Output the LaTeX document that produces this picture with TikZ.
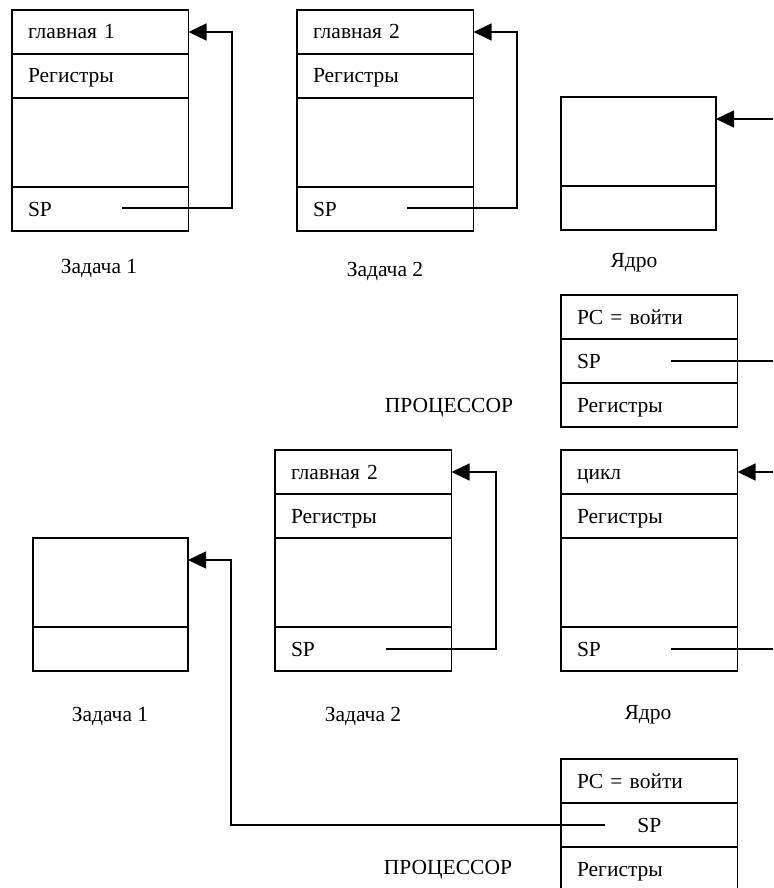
\documentclass[tikz,border=0pt]{standalone}
\usepackage{fontspec}
\setmainfont{Liberation Serif}
\usetikzlibrary{arrows.meta,positioning}
\tikzset{
  cellbox/.style={draw, line width=1.5pt, outer sep=0pt, minimum width=176.5pt, text width=144.5pt, minimum height=44pt, text height=17pt, text depth=3pt, inner xsep=16pt, inner ysep=0pt, align=left, font=\fontsize{21.5}{25}\selectfont},
  tallcell/.style={cellbox, minimum height=89pt},
  kernbox/.style={draw, line width=1.5pt, outer sep=0pt, inner sep=0pt, minimum width=155pt},
  caption/.style={font=\fontsize{21.5}{25}\selectfont},
  linkarrow/.style={-{Triangle[length=18pt,width=17pt]}, line width=1.3pt},
  linkline/.style={line width=1.3pt}
}

\begin{document}
\begin{tikzpicture}[x=1pt, y=-1pt]
  \useasboundingbox (0,0) rectangle (773,888);
  \clip (0,0) rectangle (773,888);

  \node[cellbox, anchor=north west] (a1main) at (12,10) {главная 1};
  \node[cellbox, below=0pt of a1main] (a1reg) {Регистры};
  \node[tallcell, below=0pt of a1reg] (a1free) {};
  \node[cellbox, below=0pt of a1free] (a1sp) {SP};
  \coordinate (a1src) at (122,208);
  \draw[linkarrow] (a1src) -- ++(110,0) |- (a1main.east);
  \node[caption] (a1lbl) at (99,268) {Задача 1};

  \node[cellbox, anchor=north west] (a2main) at (297,10) {главная 2};
  \node[cellbox, below=0pt of a2main] (a2reg) {Регистры};
  \node[tallcell, below=0pt of a2reg] (a2free) {};
  \node[cellbox, below=0pt of a2free] (a2sp) {SP};
  \coordinate (a2src) at (407,208);
  \draw[linkarrow] (a2src) -- ++(110,0) |- (a2main.east);
  \node[caption] (a2lbl) at (385,271) {Задача 2};

  \node[kernbox, minimum height=89pt, anchor=north west] (k1top) at (561,97) {};
  \node[kernbox, minimum height=44pt, below=0pt of k1top] (k1bot) {};
  \coordinate (k1in) at (773,119);
  \draw[linkarrow] (k1in) -- (k1in -| k1top.east);
  \node[caption] (k1lbl) at (634,263) {Ядро};

  \node[cellbox, anchor=north west] (p1pc) at (561,295) {PC = войти};
  \node[cellbox, below=0pt of p1pc] (p1sp) {SP};
  \node[cellbox, below=0pt of p1sp] (p1reg) {Регистры};
  \coordinate (p1src) at (671,361);
  \coordinate (p1out) at (773,361);
  \draw[linkline] (p1src) -- (p1out);
  \node[caption] (p1lbl) at (449,408) {ПРОЦЕССОР};

  \node[kernbox, minimum height=89pt, anchor=north west] (b1top) at (33,538) {};
  \node[kernbox, minimum height=44pt, below=0pt of b1top] (b1bot) {};
  \node[caption] (b1lbl) at (110,716) {Задача 1};

  \node[cellbox, anchor=north west] (b2main) at (275,450) {главная 2};
  \node[cellbox, below=0pt of b2main] (b2reg) {Регистры};
  \node[tallcell, below=0pt of b2reg] (b2free) {};
  \node[cellbox, below=0pt of b2free] (b2sp) {SP};
  \coordinate (b2src) at (386,649);
  \draw[linkarrow] (b2src) -- ++(110,0) |- (b2main.east);
  \node[caption] (b2lbl) at (363,716) {Задача 2};

  \node[cellbox, anchor=north west] (k2loop) at (561,450) {цикл};
  \node[cellbox, below=0pt of k2loop] (k2reg) {Регистры};
  \node[tallcell, below=0pt of k2reg] (k2free) {};
  \node[cellbox, below=0pt of k2free] (k2sp) {SP};
  \coordinate (k2in) at (773,472);
  \draw[linkarrow] (k2in) -- (k2loop.east);
  \coordinate (k2src) at (671,649);
  \coordinate (k2out) at (773,649);
  \draw[linkline] (k2src) -- (k2out);
  \node[caption] (k2lbl) at (648,715) {Ядро};

  \node[cellbox, anchor=north west] (b3pc) at (561,759) {PC = войти};
  \node[cellbox, align=center, below=0pt of b3pc] (b3sp) {SP};
  \node[cellbox, below=0pt of b3sp] (b3reg) {Регистры};
  \coordinate (b3src) at (605,825);
  \draw[linkarrow] (b3src) -- ++(-374,0) |- ([yshift=-22pt]b1top.north east);
  \node[caption] (b3lbl) at (448,870) {ПРОЦЕССОР};
\end{tikzpicture}
\end{document}
